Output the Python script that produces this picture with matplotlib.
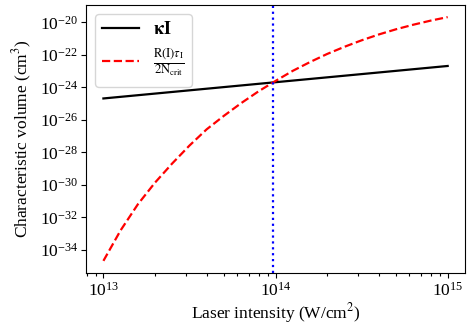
import matplotlib
matplotlib.use('Agg')
import matplotlib.pyplot as plt
from matplotlib.ticker import NullLocator

plt.rcParams['font.family'] = ['Liberation Serif', 'DejaVu Serif']
plt.rcParams['mathtext.fontset'] = 'stix'

# log10 da intensidade (W/cm^2) e log10 do volume
log_I = [13.0, 13.1, 13.2, 13.3, 13.4, 13.5, 13.6, 13.7, 13.8, 13.9, 14.0,
         14.1, 14.2, 14.3, 14.4, 14.5, 14.6, 14.7, 14.8, 14.9, 15.0]
log_V_rate = [-34.68, -32.80, -31.20, -29.86, -28.68, -27.58, -26.58, -25.75, -24.97,
              -24.25, -23.60, -22.98, -22.44, -21.94, -21.50, -21.10, -20.74, -20.42,
              -20.14, -19.89, -19.67]

log_I_kappa = [13.0, 14.0, 15.0]
log_V_kappa = [-24.68, -23.68, -22.68]

I_cross = 9.66e13

intensity = [10**v for v in log_I]
volume_rate = [10**v for v in log_V_rate]
kappa_I = [10**v for v in log_I_kappa]
kappa_V = [10**v for v in log_V_kappa]

fig, ax = plt.subplots(figsize=(4.71, 3.27), dpi=100)
fig.subplots_adjust(left=0.183, right=0.987, bottom=0.165, top=0.985)

ax.loglog(kappa_I, kappa_V, color='black', lw=1.6, label=r'$\mathbf{\kappa I}$')
ax.loglog(intensity, volume_rate, color='red', ls='--', lw=1.6,
          label=r'$\frac{\mathrm{R(I)}\tau_\mathrm{I}}{\mathrm{2N_{crit}}}$')
ax.axvline(I_cross, color='blue', ls=':', lw=1.6)

ax.set_yticks([10.0**k for k in range(-34, -19, 2)])
ax.yaxis.set_minor_locator(NullLocator())
# ticks menores do eixo x
minor_x = [m * 10.0**d for d in (12, 13, 14) for m in range(2, 10)]
ax.set_xticks(minor_x, minor=True)
ax.set_xticklabels([], minor=True)
ax.set_xlim(10**12.9, 10**15.1)

ax.set_xlabel(r'Laser intensity (W/cm$^2$)', fontsize=12.5, labelpad=1)
ax.set_ylabel(r'Characteristic volume (cm$^3$)', fontsize=12.5)
ax.tick_params(which='major', labelsize=12.5, pad=2.5, length=3.5)
ax.tick_params(axis='x', which='minor', length=2.5, width=0.8)

ax.legend(loc='upper left', fontsize=13)

fig.savefig('out.png', dpi=100)
